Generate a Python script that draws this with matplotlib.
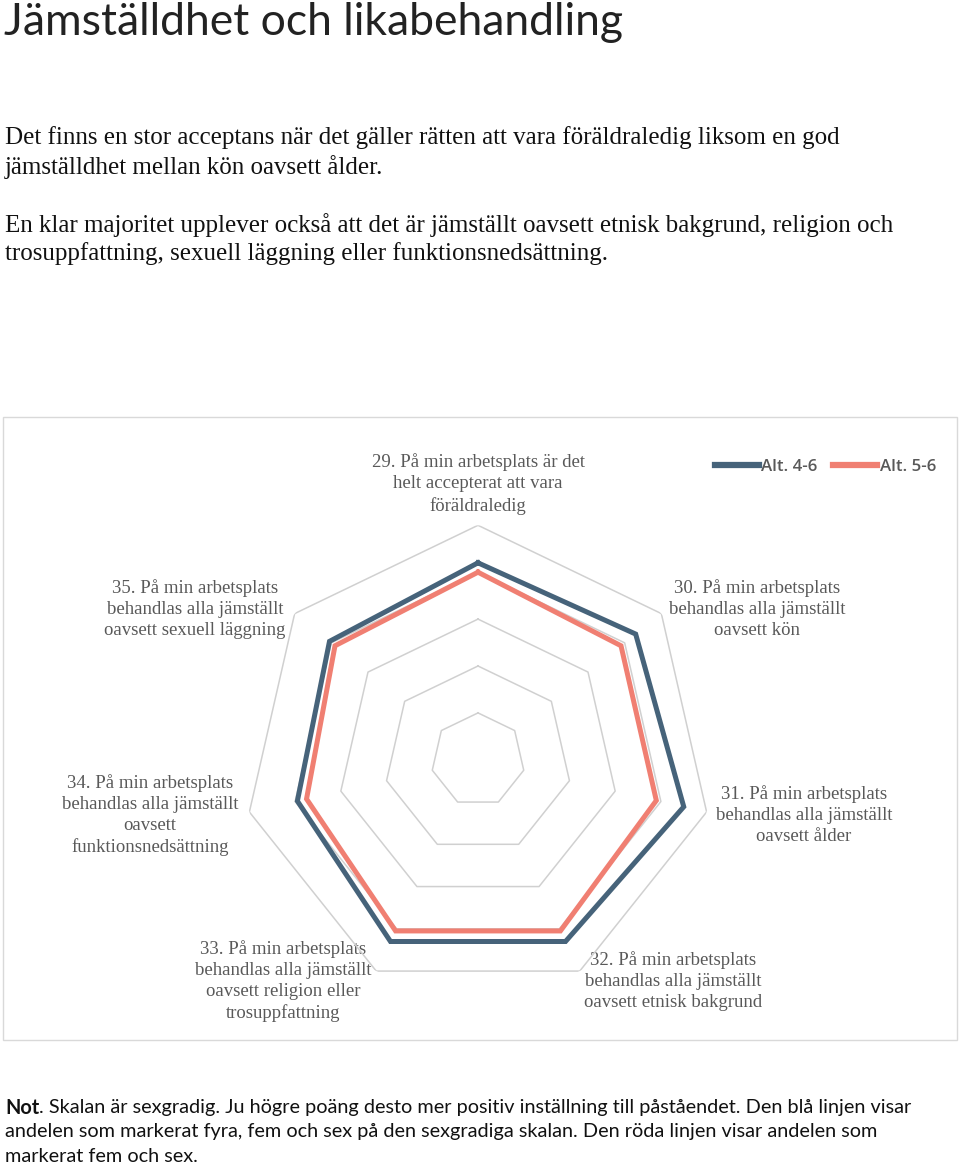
import numpy as np
import matplotlib
matplotlib.use("Agg")
import matplotlib.pyplot as plt
from matplotlib.patches import Rectangle

# Data (andel i procent)
categories = [
    "29. På min arbetsplats är det\nhelt accepterat att vara\nföräldraledig",
    "30. På min arbetsplats\nbehandlas alla jämställt\noavsett kön",
    "31. På min arbetsplats\nbehandlas alla jämställt\noavsett ålder",
    "32. På min arbetsplats\nbehandlas alla jämställt\noavsett etnisk bakgrund",
    "33. På min arbetsplats\nbehandlas alla jämställt\noavsett religion eller\ntrosuppfattning",
    "34. På min arbetsplats\nbehandlas alla jämställt\noavsett\nfunktionsnedsättning",
    "35. På min arbetsplats\nbehandlas alla jämställt\noavsett sexuell läggning",
]
alt_4_6 = [84, 86, 90, 86, 86, 79, 81]
alt_5_6 = [80, 78, 78, 81, 81, 75, 78]
series_names = ["Alt. 4-6", "Alt. 5-6"]
grid_levels = [20, 40, 60, 80, 100]

# label placement (pixels, top-down)
label_pos = [(478, 484), (757, 609), (804, 815), (673, 981),
             (283, 981), (150, 815), (195, 609)]

BLUE = "#46637a"
RED = "#f07f72"
GRID = "#d0d0d0"
LABEL = "#595959"

W, H = 960, 1166
fig = plt.figure(figsize=(W / 100, H / 100), dpi=100)

# background axes in pixel coordinates for texts and the frame
bg = fig.add_axes([0, 0, 1, 1])
bg.set_xlim(0, W)
bg.set_ylim(H, 0)
bg.axis("off")

bg.text(4, 35, "Jämställdhet och likabehandling", fontsize=32,
        family="Lato", fontweight="normal", va="baseline", color="#222222")

body = [
    (138, "Det finns en stor acceptans när det gäller rätten att vara föräldraledig liksom en god"),
    (167, "jämställdhet mellan kön oavsett ålder."),
    (225, "En klar majoritet upplever också att det är jämställt oavsett etnisk bakgrund, religion och"),
    (254, "trosuppfattning, sexuell läggning eller funktionsnedsättning."),
]
for y, s in body:
    bg.text(5, y, s, fontsize=18, family="Liberation Serif", va="center",
            color="#111111")

# chart frame
bg.add_patch(Rectangle((3, 417), 954, 623, fill=False, edgecolor="#d9d9d9", lw=1))

for (x, y), s in zip(label_pos, categories):
    bg.text(x, y, s, fontsize=13.5, family="Liberation Serif", color=LABEL,
            ha="center", va="center", multialignment="center", linespacing=1.32)

# footnote
FN = 14.3
t = bg.text(5, 1108, "Not", fontsize=FN, family="Lato", fontweight="bold",
            va="center", color="#111111")
bg.annotate(". Skalan är sexgradig. Ju högre poäng desto mer positiv inställning till påståendet. Den blå linjen visar",
            xy=(1, 0.5), xycoords=t, va="center", ha="left",
            fontsize=FN, family="Lato", color="#111111")
bg.text(5, 1132, "andelen som markerat fyra, fem och sex på den sexgradiga skalan. Den röda linjen visar andelen som",
        fontsize=FN, family="Lato", va="center", color="#111111")
bg.text(5, 1156, "markerat fem och sex.", fontsize=FN, family="Lato", va="center",
        color="#111111")

# radar chart
cx, cy, R = 478, 759.8, 234.5
ax = fig.add_axes([(cx - R) / W, (H - cy - R) / H, 2 * R / W, 2 * R / H],
                  projection="polar")
ax.set_theta_offset(np.pi / 2)
ax.set_theta_direction(-1)
ax.set_ylim(0, 100)
ax.grid(False)
ax.spines["polar"].set_visible(False)
ax.set_xticks([])
ax.set_yticks([])
ax.patch.set_alpha(0)

n = len(categories)
theta = np.linspace(0, 2 * np.pi, n, endpoint=False)
theta_c = np.append(theta, theta[0])

for lvl in grid_levels:
    ax.plot(theta_c, [lvl] * (n + 1), color=GRID, lw=1.1, zorder=1)

ax.plot(theta_c, alt_4_6 + alt_4_6[:1], color=BLUE, lw=3.6, zorder=3,
        solid_joinstyle="miter", label=series_names[0])
ax.plot(theta_c, alt_5_6 + alt_5_6[:1], color=RED, lw=3.6, zorder=2,
        solid_joinstyle="miter", label=series_names[1])

leg = fig.legend(loc="center right", bbox_to_anchor=(951 / W, 1 - 467 / H),
                 ncol=2, frameon=False, handlelength=2.6, handletextpad=0.15,
                 columnspacing=0.9, prop={"family": "Open Sans", "size": 12.2,
                                          "weight": "semibold"})
for txt in leg.get_texts():
    txt.set_color(LABEL)
for line in leg.get_lines():
    line.set_linewidth(4.5)

fig.savefig("out.png", dpi=100)
